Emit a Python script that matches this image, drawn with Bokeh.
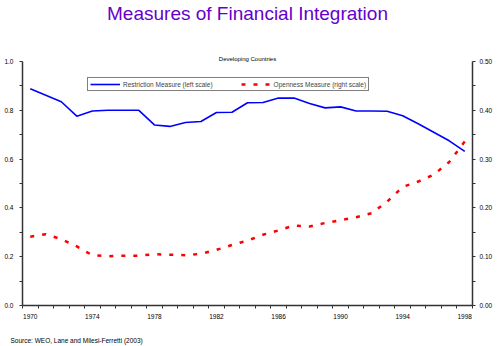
from bokeh.plotting import figure
from bokeh.models import (Range1d, LinearAxis, FixedTicker, Title, Legend, LegendItem,
                          NumeralTickFormatter)
from bokeh.embed import file_html
from bokeh.resources import INLINE

years = list(range(1970, 1999))
restriction = [0.888, 0.862, 0.835, 0.776, 0.797, 0.800, 0.800, 0.800, 0.740, 0.734,
               0.750, 0.754, 0.791, 0.792, 0.831, 0.832, 0.850, 0.850, 0.828, 0.810,
               0.814, 0.797, 0.797, 0.796, 0.778, 0.745, 0.710, 0.675, 0.632]
openness = [0.141, 0.146, 0.136, 0.121, 0.103, 0.101, 0.102, 0.102, 0.105, 0.104,
            0.103, 0.106, 0.114, 0.124, 0.133, 0.145, 0.154, 0.164, 0.162, 0.169,
            0.175, 0.181, 0.189, 0.213, 0.243, 0.254, 0.268, 0.294, 0.336]
year_labels = [1970, 1974, 1978, 1982, 1986, 1990, 1994, 1998]
left_ticks = [0.0, 0.2, 0.4, 0.6, 0.8, 1.0]
right_ticks = [0.0, 0.1, 0.2, 0.3, 0.4, 0.5]

FONT = "Liberation Sans"

p = figure(width=500, height=346, output_backend="svg", toolbar_location=None,
           x_range=Range1d(years[0] - 0.5, years[-1] + 0.5), y_range=Range1d(0, 1),
           min_border_left=22, min_border_right=28, min_border_top=61, min_border_bottom=41,
           x_axis_location=None, y_axis_location=None)
p.extra_y_ranges = {"right": Range1d(0, 0.5)}
p.outline_line_color = None
p.xgrid.visible = False
p.ygrid.visible = False
p.background_fill_color = "white"
p.border_fill_color = "white"

def style_axis(ax):
    ax.axis_line_color = "#333333"
    ax.axis_line_width = 1.5
    ax.major_tick_line_color = "#333333"
    ax.minor_tick_line_color = "#333333"
    ax.major_tick_in = 0
    ax.major_tick_out = 3
    ax.minor_tick_in = 0
    ax.minor_tick_out = 3
    ax.major_label_text_font = FONT
    ax.major_label_text_font_size = "6.5px"
    ax.major_label_text_color = "black"
    ax.major_label_standoff = 4

xa = LinearAxis(ticker=FixedTicker(ticks=year_labels,
                                   minor_ticks=[y - 0.5 for y in years] + [years[-1] + 0.5]))
style_axis(xa)
xa.major_tick_line_color = None
xa.major_label_standoff = 5
p.add_layout(xa, "below")

ya = LinearAxis(ticker=FixedTicker(ticks=left_ticks,
                                   minor_ticks=[0.1, 0.3, 0.5, 0.7, 0.9]),
                formatter=NumeralTickFormatter(format="0.0"))
style_axis(ya)
ya.major_label_standoff = 6
p.add_layout(ya, "left")

yr = LinearAxis(y_range_name="right",
                ticker=FixedTicker(ticks=right_ticks,
                                   minor_ticks=[0.05, 0.15, 0.25, 0.35, 0.45]),
                formatter=NumeralTickFormatter(format="0.00"))
style_axis(yr)
p.add_layout(yr, "right")

r1 = p.line(years, restriction, line_color="#0000FF", line_width=1.6)
r2 = p.line(years, openness, y_range_name="right", line_color="#FF0000",
            line_width=2.5, line_dash="4 8")

legend = Legend(items=[LegendItem(label="Restriction Measure (left scale)", renderers=[r1]),
                       LegendItem(label="Openness Measure (right scale)", renderers=[r2])],
                location=(65, 214), orientation="horizontal",
                label_text_font=FONT, label_text_font_size="6.5px",
                glyph_width=30, glyph_height=8, padding=2, margin=0, spacing=28,
                label_standoff=3, label_height=8,
                border_line_color="black", border_line_width=1,
                background_fill_color="white", background_fill_alpha=1.0)
p.add_layout(legend)

sub = Title(text="Developing Countries", text_font=FONT, text_font_size="6px",
            text_font_style="normal", text_color="black", align="center", standoff=0)
p.add_layout(sub, "above")
p.add_layout(Title(text=" ", text_font_size="1px", standoff=25), "above")
main = Title(text="Measures of Financial Integration", text_font=FONT,
             text_font_size="19px", text_font_style="normal", text_color="#6600CC",
             align="center", standoff=0, vertical_align="top")
p.add_layout(main, "above")

p.add_layout(Title(text=" ", text_font_size="1px", standoff=10), "below")
src = Title(text="Source: WEO, Lane and Milesi-Ferretti (2003)", text_font=FONT,
            text_font_size="6.5px", text_font_style="normal", text_color="black",
            align="left", offset=-12, standoff=0, vertical_align="bottom")
p.add_layout(src, "below")

open("out.html", "w").write(file_html(p, INLINE))
